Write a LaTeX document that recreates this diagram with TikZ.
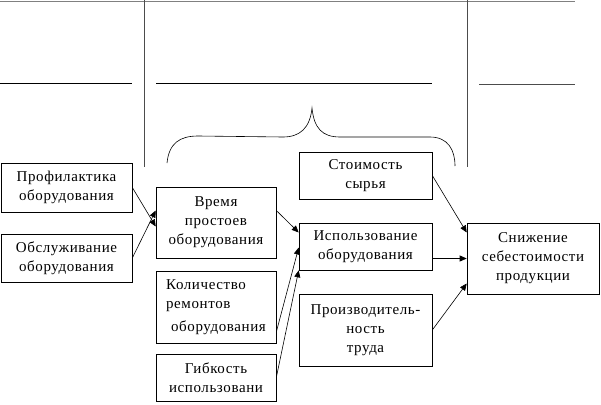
\documentclass[tikz,border=0pt]{standalone}
\usepackage{fontspec}
\setmainfont{Liberation Serif}[LetterSpace=4]
\usetikzlibrary{arrows.meta}
\tikzset{
  box/.style={draw, semithick, inner sep=0pt, align=center, font=\fontsize{15}{19}\selectfont},
  arr/.style={-{Triangle[length=7pt,width=6pt]}, semithick},
  rule/.style={semithick}
}
\begin{document}
\begin{tikzpicture}[x=1pt,y=-1pt]
\useasboundingbox (0,0) rectangle (601,404);
% top frame lines
\draw[rule, gray] (0,1) -- (575,1);
\draw[rule, black!70] (144,0) -- (144,167);
\draw[rule, black!70] (467,0) -- (467,167);
\draw[rule] (0,83) -- (132,83);
\draw[rule] (156,83) -- (432,83);
\draw[rule, black!70] (479,84) -- (575,84);
% brace
\draw[semithick] (167,163) .. controls (169,143) and (180,136) .. (198,136) -- (283,137)
  .. controls (300,137) and (310,128) .. (312,108)
  .. controls (314,128) and (322,137) .. (340,137) -- (430,137)
  .. controls (448,137) and (455,150) .. (455,166);
% boxes
\node[box, minimum width=131, minimum height=49] (prof) at (66.5,187.5) {Профилактика\\оборудования};
\node[box, minimum width=131, minimum height=48] (obsl) at (66.5,258) {Обслуживание\\оборудования};
\node[box, minimum width=120, minimum height=71] (vrem) at (216,222.5) {Время\\простоев\\оборудования};
\node[box, minimum width=120, minimum height=72, align=left] (kol) at (216,307) {Количество\\ремонтов\\[4pt]\hspace{5pt}оборудования};
\node[box, minimum width=120, minimum height=47] (gib) at (216,377.5) {Гибкость\\использовани};
\node[box, minimum width=133, minimum height=47] (stoim) at (365.5,175.5) {Стоимость\\сырья};
\node[box, minimum width=133, minimum height=47] (isp) at (365.5,246.5) {Использование\\оборудования};
\node[box, minimum width=133, minimum height=72] (proizv) at (365.5,330) {Производитель-\\ность\\труда};
\node[box, minimum width=132, minimum height=71] (sniz) at (533,258.5) {Снижение\\себестоимости\\продукции};
% arrows
\draw[arr] ([yshift=0pt]prof.east) -- ([yshift=-4pt]vrem.west);
\draw[arr] ([yshift=0pt]obsl.east) -- ([yshift=12pt]vrem.west);
\draw[arr] ([yshift=12pt]vrem.east) -- ([yshift=14pt]isp.west);
\draw[arr] ([yshift=-25pt]kol.east) -- ([yshift=-1pt]isp.west);
\draw[arr] ([yshift=0pt]gib.east) -- (isp.south west);
\draw[arr] ([yshift=0pt]stoim.east) -- ([yshift=26pt]sniz.west);
\draw[arr] ([yshift=-12pt]isp.east) -- ([yshift=0pt]sniz.west);
\draw[arr] ([yshift=0pt]proizv.east) -- ([yshift=-25pt]sniz.west);
\end{tikzpicture}
\end{document}
